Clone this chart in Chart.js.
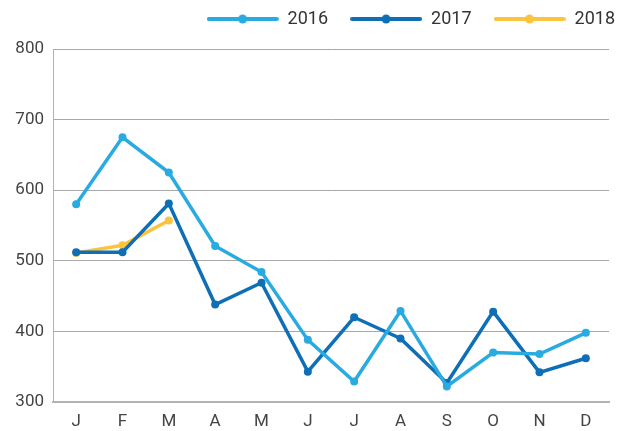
<!DOCTYPE html>
<html>
<head>
<meta charset="utf-8">
<script src="https://cdn.jsdelivr.net/npm/chart.js@4"></script>
<style>
  html, body { margin: 0; padding: 0; background: #fff; }
  #wrap { width: 636px; height: 431px; }
</style>
</head>
<body>
<div id="wrap"><canvas id="salesChart" width="636" height="431"></canvas></div>
<script>
const months = ["J", "F", "M", "A", "M", "J", "J", "A", "S", "O", "N", "D"];
const values2016 = [580, 675, 625, 521, 484, 388, 329, 429, 322, 370, 368, 398];
const values2017 = [512, 512, 581, 438, 469, 343, 420, 390, 327, 428, 342, 362];
const values2018 = [511, 522, 557];
const yTicks = [300, 400, 500, 600, 700, 800];

const colors = ["#29abe2", "#0f6fb6", "#fcc43e"];

// legend icon: line with a dot in the middle
function legendIcon(color) {
    const c = document.createElement("canvas");
    c.width = 72;
    c.height = 10;
    const g = c.getContext("2d");
    g.strokeStyle = color;
    g.lineWidth = 4;
    g.lineCap = "round";
    g.beginPath();
    g.moveTo(2, 5);
    g.lineTo(70, 5);
    g.stroke();
    g.fillStyle = color;
    g.beginPath();
    g.arc(36, 5, 4.5, 0, Math.PI * 2);
    g.fill();
    return c;
}
const icons = colors.map(legendIcon);

function line(label, data, color) {
    return {
        label: label,
        data: data,
        borderColor: color,
        backgroundColor: color,
        borderWidth: 3.5,
        pointRadius: 4,
        pointHoverRadius: 4,
        pointBorderWidth: 0,
        tension: 0,
        fill: false
    };
}

const shiftLegend = {
    id: "shiftLegend",
    afterLayout(chart) {
        const lg = chart.legend;
        lg.left += 28;
        lg.right += 28;
        lg.top -= 11;
        lg.bottom -= 11;
    }
};

document.addEventListener("DOMContentLoaded", function () {
    const ctx = document.getElementById("salesChart").getContext("2d");
    new Chart(ctx, {
        type: "line",
        data: {
            labels: months,
            datasets: [
                line("2016", values2016, colors[0]),
                line("2017", values2017, colors[1]),
                line("2018", values2018, colors[2])
            ]
        },
        options: {
            responsive: false,
            animation: false,
            layout: { padding: { left: 0, right: 27, top: -1, bottom: 0 } },
            plugins: {
                legend: {
                    position: "top",
                    align: "end",
                    labels: {
                        usePointStyle: true,
                        pointStyleWidth: 72,
                        padding: 22,
                        color: "#333",
                        font: { family: "Roboto", size: 18 },
                        generateLabels(chart) {
                            const items = Chart.defaults.plugins.legend.labels.generateLabels(chart);
                            items.forEach((it, i) => { it.pointStyle = icons[i]; });
                            return items;
                        }
                    }
                },
                tooltip: { enabled: false }
            },
            scales: {
                x: {
                    offset: true,
                    grid: { display: false, drawTicks: false },
                    border: { color: "#b3b3b3", width: 2 },
                    ticks: { color: "#444", padding: 10, font: { family: "Roboto", size: 17 } },
                    afterFit(scale) { scale.height = 29; }
                },
                y: {
                    min: 300,
                    max: 800,
                    afterBuildTicks(scale) { scale.ticks = yTicks.map(v => ({ value: v })); },
                    grid: { color: "#a8a8a8", lineWidth: 1, drawTicks: false },
                    border: { color: "#b3b3b3", width: 1 },
                    ticks: { color: "#444", padding: 9, font: { family: "Roboto", size: 17 } },
                    afterFit(scale) { scale.width = 53; }
                }
            }
        },
        plugins: [shiftLegend]
    });
});
</script>
</body>
</html>
